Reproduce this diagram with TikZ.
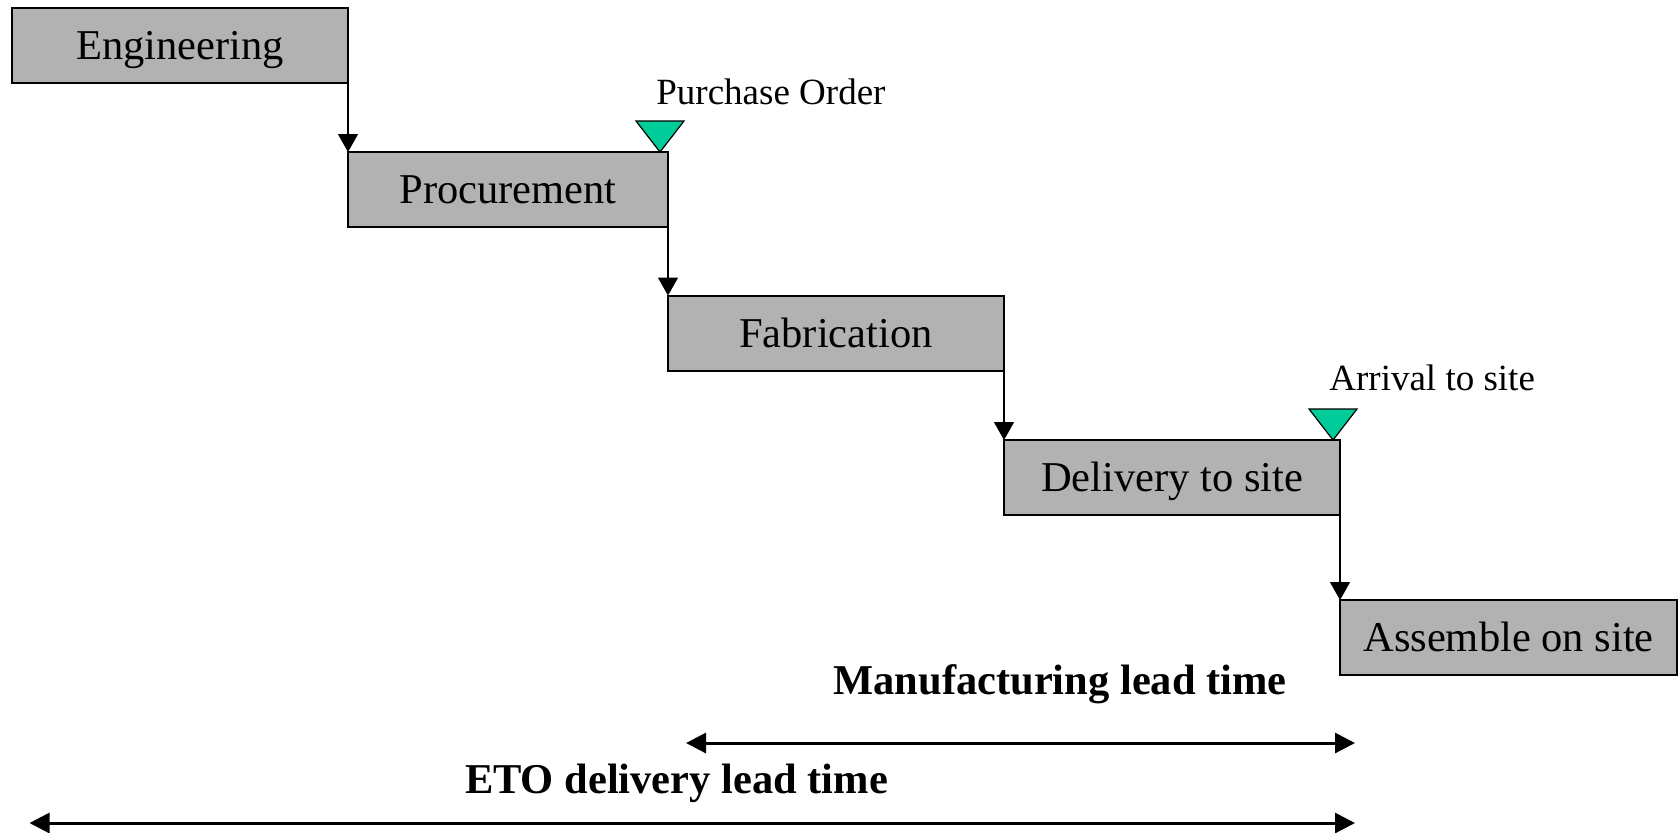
\documentclass[tikz,border=0pt]{standalone}
\usepackage{fontspec}
\setmainfont{Liberation Serif}
\usepackage{tikz}
\usetikzlibrary{positioning,arrows.meta}
\definecolor{taskgray}{HTML}{B2B2B2}
\definecolor{markgreen}{HTML}{00CC99}

\begin{document}
\begin{tikzpicture}[x=0.5pt, y=-0.5pt,
    task/.style = {shape=rectangle, draw, line width=1pt, fill=taskgray,
      minimum width=168pt, minimum height=37.5pt, inner sep=0pt, outer sep=0pt,
      text height=14pt, text depth=0pt, font=\fontsize{21.25}{24}\selectfont},
    link/.style = {-{Triangle[width=10pt,length=9pt]}, line width=0.75pt},
    milestone/.style = {draw, line width=0.6pt, fill=markgreen},
    mark label/.style = {font=\fontsize{18.5}{21}\selectfont, inner sep=0pt, anchor=base west},
    span/.style = {{Triangle[width=10pt,length=10pt]}-{Triangle[width=10pt,length=10pt]},
      line width=1.5pt},
    span label/.style = {font=\bfseries\fontsize{21.25}{24}\selectfont, inner sep=0pt, anchor=base}]
  \useasboundingbox (0,0) rectangle (1679,832);
  % the five steps
  \node[task, anchor=north west] (eng) at (12,7.5) {Engineering};
  \node[task, minimum width=160pt, below right=34.75pt and 0pt of eng] (proc) {Procurement};
  \node[task, below right=34.25pt and 0pt of proc] (fab) {Fabrication};
  \node[task, below right=34.75pt and 0pt of fab] (del) {Delivery to site};
  \node[task, minimum width=168.5pt, below right=42.5pt and 0pt of del] (asm) {Assemble on site};
  \draw[link] (eng.south east) -- (proc.north west);
  \draw[link] (proc.south east) -- (fab.north west);
  \draw[link] (fab.south east) -- (del.north west);
  \draw[link] (del.south east) -- (asm.north west);
  % milestones
  \coordinate (po) at ([xshift=-4pt]proc.north east);
  \draw[milestone] (po) -- ++(-24,-31) -- ++(48,0) -- cycle;
  \node[mark label] (po label) at ([xshift=-2pt,yshift=24pt]po) {Purchase Order};
  \coordinate (arr) at ([xshift=-3.5pt]del.north east);
  \draw[milestone] (arr) -- ++(-24,-31) -- ++(48,0) -- cycle;
  \node[mark label] (arr label) at ([xshift=-2pt,yshift=25pt]arr) {Arrival to site};
  % lead times
  \coordinate (mfg start) at (686,743);
  \coordinate (mfg end) at (1355,743);
  \draw[span] (mfg start) -- (mfg end);
  \node[span label] (mfg label) at (1060,694) {Manufacturing lead time};
  \coordinate (eto start) at (29.5,823);
  \coordinate (eto end) at (1355,823);
  \draw[span] (eto start) -- (eto end);
  \node[span label] (eto label) at (676.5,793.5) {ETO delivery lead time};
\end{tikzpicture}
\end{document}
